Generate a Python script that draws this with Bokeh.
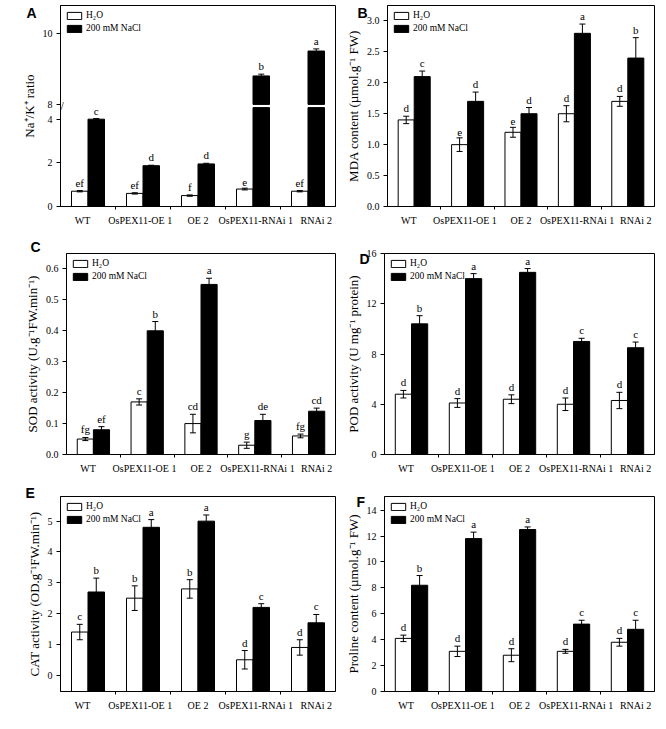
import numpy as np
from bokeh.plotting import figure
from bokeh.models import (Range1d, FixedTicker, Whisker, ColumnDataSource, Label,
                          Legend, LegendItem, TeeHead)
from bokeh.layouts import column, row
from bokeh.embed import file_html
from bokeh.resources import INLINE

# ---------------- data ----------------
categories = ["WT", "OsPEX11-OE 1", "OE 2", "OsPEX11-RNAi 1", "RNAi 2"]
series_names = ["H\u2082O", "200 mM NaCl"]

a_h2o = [0.70, 0.60, 0.50, 0.80, 0.70]
a_h2o_err = [0.03, 0.03, 0.03, 0.04, 0.03]
a_nacl = [4.00, 1.87, 1.95, 8.80, 9.50]
a_nacl_err = [0.03, 0.02, 0.03, 0.05, 0.06]
a_h2o_lab = ["ef", "ef", "f", "e", "ef"]
a_nacl_lab = ["c", "d", "d", "b", "a"]
a_low_ticks = [0, 2, 4]
a_up_ticks = [8, 10]

b_h2o = [1.40, 1.00, 1.20, 1.50, 1.70]
b_h2o_err = [0.06, 0.11, 0.08, 0.13, 0.08]
b_nacl = [2.10, 1.70, 1.50, 2.80, 2.40]
b_nacl_err = [0.09, 0.15, 0.10, 0.15, 0.33]
b_h2o_lab = ["d", "e", "e", "d", "d"]
b_nacl_lab = ["c", "d", "d", "a", "b"]
b_ticks = [0.0, 0.5, 1.0, 1.5, 2.0, 2.5, 3.0]

c_h2o = [0.05, 0.17, 0.10, 0.03, 0.06]
c_h2o_err = [0.005, 0.01, 0.03, 0.01, 0.006]
c_nacl = [0.08, 0.40, 0.55, 0.11, 0.14]
c_nacl_err = [0.01, 0.03, 0.02, 0.02, 0.01]
c_h2o_lab = ["fg", "c", "cd", "g", "fg"]
c_nacl_lab = ["ef", "b", "a", "de", "cd"]
c_ticks = [0.0, 0.1, 0.2, 0.3, 0.4, 0.5, 0.6]

d_h2o = [4.8, 4.1, 4.4, 4.0, 4.3]
d_h2o_err = [0.3, 0.35, 0.35, 0.5, 0.65]
d_nacl = [10.4, 14.0, 14.5, 9.0, 8.5]
d_nacl_err = [0.65, 0.4, 0.3, 0.25, 0.45]
d_h2o_lab = ["d", "d", "d", "d", "d"]
d_nacl_lab = ["b", "a", "a", "c", "c"]
d_ticks = [0, 4, 8, 12, 16]

e_h2o = [1.4, 2.5, 2.8, 0.5, 0.9]
e_h2o_err = [0.25, 0.4, 0.3, 0.3, 0.25]
e_nacl = [2.7, 4.8, 5.0, 2.2, 1.7]
e_nacl_err = [0.45, 0.25, 0.2, 0.12, 0.27]
e_h2o_lab = ["c", "b", "b", "d", "d"]
e_nacl_lab = ["b", "a", "a", "c", "c"]
e_ticks = [0, 1, 2, 3, 4, 5]

f_h2o = [4.1, 3.1, 2.8, 3.1, 3.8]
f_h2o_err = [0.25, 0.4, 0.5, 0.15, 0.3]
f_nacl = [8.2, 11.8, 12.5, 5.2, 4.8]
f_nacl_err = [0.75, 0.5, 0.2, 0.3, 0.7]
f_h2o_lab = ["d", "d", "d", "d", "d"]
f_nacl_lab = ["b", "a", "a", "c", "c"]
f_ticks = [0, 2, 4, 6, 8, 10, 12, 14]

# ---------------- style ----------------
SERIF = "Liberation Serif"
SANS = "Liberation Sans"
HALF = 0.15
BW = 0.30
TICK_FS = "10px"
CAT_FS = "10px"
LET_FS = "11px"
TITLE_FS = "13px"
LABEL_SHIFT = [-0.1, -0.05, 0.0, 0.05, 0.15]
X0, X1 = -0.5, 4.5


def base_fig(w, h, bl, br, bt, bb, y_range):
    p = figure(width=w, height=h, x_range=Range1d(X0, X1), y_range=y_range,
               output_backend="svg", toolbar_location=None,
               min_border_left=bl, min_border_right=br,
               min_border_top=bt, min_border_bottom=bb)
    p.xgrid.visible = False
    p.ygrid.visible = False
    p.outline_line_color = "black"
    p.outline_line_alpha = 1.0
    p.outline_line_width = 1
    p.background_fill_color = "white"
    p.border_fill_color = "white"
    xa = p.xaxis[0]
    pos = [round(i + s, 3) for i, s in enumerate(LABEL_SHIFT)]
    xa.ticker = FixedTicker(ticks=pos,
                            minor_ticks=[i + 0.5 for i in range(len(categories) - 1)])
    xa.major_label_overrides = {t: c for t, c in zip(pos, categories)}
    xa.major_tick_out = 0
    xa.major_tick_in = 0
    xa.minor_tick_out = 3
    xa.minor_tick_in = 0
    xa.major_label_standoff = 5
    xa.major_label_text_font = SERIF
    xa.major_label_text_font_size = CAT_FS
    xa.major_label_text_color = "black"
    xa.axis_line_color = "black"
    xa.minor_tick_line_color = "black"
    ya = p.yaxis[0]
    ya.major_tick_out = 4
    ya.major_tick_in = 0
    ya.minor_tick_out = 0
    ya.minor_tick_in = 0
    ya.major_label_standoff = 4
    ya.axis_label_standoff = 3
    ya.major_label_text_font = SERIF
    ya.major_label_text_font_size = TICK_FS
    ya.major_label_text_color = "black"
    ya.axis_label_text_font = SERIF
    ya.axis_label_text_font_size = TITLE_FS
    ya.axis_label_text_font_style = "normal"
    ya.axis_label_text_color = "black"
    ya.axis_line_color = "black"
    ya.major_tick_line_color = "black"
    return p


def add_legend(p, r_white, r_black):
    leg = Legend(items=[LegendItem(label=series_names[0], renderers=[r_white]),
                        LegendItem(label=series_names[1], renderers=[r_black])],
                 location="top_left")
    leg.margin = 3
    leg.padding = 2
    leg.spacing = 3
    leg.glyph_width = 18
    leg.glyph_height = 9
    leg.label_height = 9
    leg.label_standoff = 3
    leg.label_text_font = SERIF
    leg.label_text_font_size = "9.5px"
    leg.label_text_color = "black"
    leg.border_line_alpha = 0
    leg.background_fill_alpha = 0
    p.add_layout(leg)


def letter_title(p, letter, offset, standoff):
    p.title.text = letter
    p.title.align = "left"
    p.title.offset = offset
    p.title.standoff = standoff
    p.title.text_font = SANS
    p.title.text_font_style = "bold"
    p.title.text_font_size = "14px"
    p.title.text_color = "black"


def series_source(vals, errs, labs, shift, bottom):
    idx = np.arange(len(vals))
    v = np.array(vals, dtype=float)
    e = np.array(errs, dtype=float)
    return ColumnDataSource(dict(x=idx + shift, top=v, bottom=np.full(len(v), bottom),
                                 upper=v + e, lower=v - e, lab=labs))


def draw_series(p, src, fill, range_name="default"):
    r = p.vbar(x="x", top="top", bottom="bottom", width=BW, source=src,
               fill_color=fill, line_color="black", line_width=1,
               y_range_name=range_name)
    wk = Whisker(source=src, base="x", upper="upper", lower="lower",
                 line_color="black", line_width=1, y_range_name=range_name,
                 upper_head=TeeHead(size=6, line_color="black", line_width=1),
                 lower_head=TeeHead(size=6, line_color="black", line_width=1))
    wk.level = "annotation"
    p.add_layout(wk)
    p.text(x="x", y="upper", text="lab", source=src, text_font=SERIF,
           text_font_size=LET_FS, text_align="center", text_baseline="bottom",
           y_offset=-2, text_color="black", y_range_name=range_name)
    return r


def simple_panel(geom, ymin, ymax, ticks, ylabel, h2o, h2o_e, nacl, nacl_e,
                 h2o_l, nacl_l, fmt=None):
    w, h, bl, br, bt, bb = geom
    p = base_fig(w, h, bl, br, bt, bb, Range1d(ymin, ymax))
    p.yaxis[0].ticker = FixedTicker(ticks=ticks)
    if fmt is not None:
        p.yaxis[0].major_label_overrides = {t: fmt.format(t) for t in ticks}
    p.yaxis[0].axis_label = ylabel
    s1 = series_source(h2o, h2o_e, h2o_l, -HALF, ymin)
    s2 = series_source(nacl, nacl_e, nacl_l, HALF, ymin)
    r1 = draw_series(p, s1, "white")
    r2 = draw_series(p, s2, "black")
    add_legend(p, r1, r2)
    return p


# ---------------- panel A (broken axis) ----------------
A_GEOM = (342, 228, 60, 7, 5, 19)
LOW_MAX = 4.53
UP_MIN, UP_MAX = 8.0, 10.78
LOW_FRAC = 0.492
low_span = LOW_MAX / LOW_FRAC
up_span = (UP_MAX - UP_MIN) / LOW_FRAC
up_start = UP_MAX - up_span

w, h, bl, br, bt, bb = A_GEOM
pA = base_fig(w, h, bl, br, bt, bb, Range1d(0, low_span))
pA.extra_y_ranges = {"up": Range1d(up_start, UP_MAX)}


def up_to_low(v):
    return round((v - up_start) / up_span * low_span, 6)


a_tick_pos = list(a_low_ticks) + [up_to_low(v) for v in a_up_ticks]
pA.yaxis[0].ticker = FixedTicker(ticks=a_tick_pos)
overr = {t: str(t) for t in a_low_ticks}
for v in a_up_ticks:
    overr[up_to_low(v)] = str(v)
pA.yaxis[0].major_label_overrides = overr
pA.yaxis[0].axis_label = "Na\u207a/K\u207a ratio"

sA1 = series_source(a_h2o, a_h2o_err, a_h2o_lab, -HALF, 0)
rA1 = draw_series(pA, sA1, "white")
nacl = np.array(a_nacl)
nerr = np.array(a_nacl_err)
idx = np.arange(len(nacl))
is_up = nacl > UP_MIN
low_src = ColumnDataSource(dict(x=idx[~is_up] + HALF, top=nacl[~is_up],
                                bottom=np.zeros((~is_up).sum()),
                                upper=(nacl + nerr)[~is_up], lower=(nacl - nerr)[~is_up],
                                lab=[l for l, u in zip(a_nacl_lab, is_up) if not u]))
rA2 = draw_series(pA, low_src, "black")
stub_src = ColumnDataSource(dict(x=idx[is_up] + HALF, top=np.full(is_up.sum(), LOW_MAX)))
pA.vbar(x="x", top="top", bottom=0, width=BW, source=stub_src,
        fill_color="black", line_color="black")
up_src = ColumnDataSource(dict(x=idx[is_up] + HALF, top=nacl[is_up],
                               bottom=np.full(is_up.sum(), UP_MIN),
                               upper=(nacl + nerr)[is_up], lower=(nacl - nerr)[is_up],
                               lab=[l for l, u in zip(a_nacl_lab, is_up) if u]))
draw_series(pA, up_src, "black", "up")
add_legend(pA, rA1, rA2)
# break mark "//" on the y axis
brk_y = (LOW_MAX + up_to_low(UP_MIN)) / 2
pA.add_layout(Label(x=X0, y=brk_y, text="//", text_font=SERIF, text_font_size="12px",
                    text_align="center", text_baseline="middle", text_color="black"))
letter_title(pA, "A", -34, -31)

# ---------------- other panels ----------------
pB = simple_panel((314, 228, 41, 2, 5, 18), 0, 3.25, b_ticks,
                  "MDA content (\u00b5mol.g\u207b\u00b9 FW)",
                  b_h2o, b_h2o_err, b_nacl, b_nacl_err, b_h2o_lab, b_nacl_lab, fmt="{:.1f}")
letter_title(pB, "B", -30, -31)

pC = simple_panel((342, 248, 66, 7, 25, 18), 0, 0.65, c_ticks,
                  "SOD activity (U.g\u207b\u00b9FW.min\u207b\u00b9)",
                  c_h2o, c_h2o_err, c_nacl, c_nacl_err, c_h2o_lab, c_nacl_lab, fmt="{:.1f}")
letter_title(pC, "C", -36, -2)

pD = simple_panel((314, 248, 37, 2, 23, 19), 0, 16, d_ticks,
                  "POD activity (U mg\u207b\u00b9 protein)",
                  d_h2o, d_h2o_err, d_nacl, d_nacl_err, d_h2o_lab, d_nacl_lab)
letter_title(pD, "D", -25, -27)

pE = simple_panel((342, 237, 60, 7, 20, 16), -0.53, 5.8, e_ticks,
                  "CAT activity (OD.g\u207b\u00b9FW.min\u207b\u00b9)",
                  e_h2o, e_h2o_err, e_nacl, e_nacl_err, e_h2o_lab, e_nacl_lab)
letter_title(pE, "E", -35, -8)

pF = simple_panel((314, 237, 40, 2, 19, 15), 0, 15.05, f_ticks,
                  "Proline content (\u00b5mol.g\u207b\u00b9 FW)",
                  f_h2o, f_h2o_err, f_nacl, f_nacl_err, f_h2o_lab, f_nacl_lab)
letter_title(pF, "F", -28, -26)

layout = column(row(pA, pB), row(pC, pD), row(pE, pF))
open("out.html", "w").write(file_html(layout, INLINE))
